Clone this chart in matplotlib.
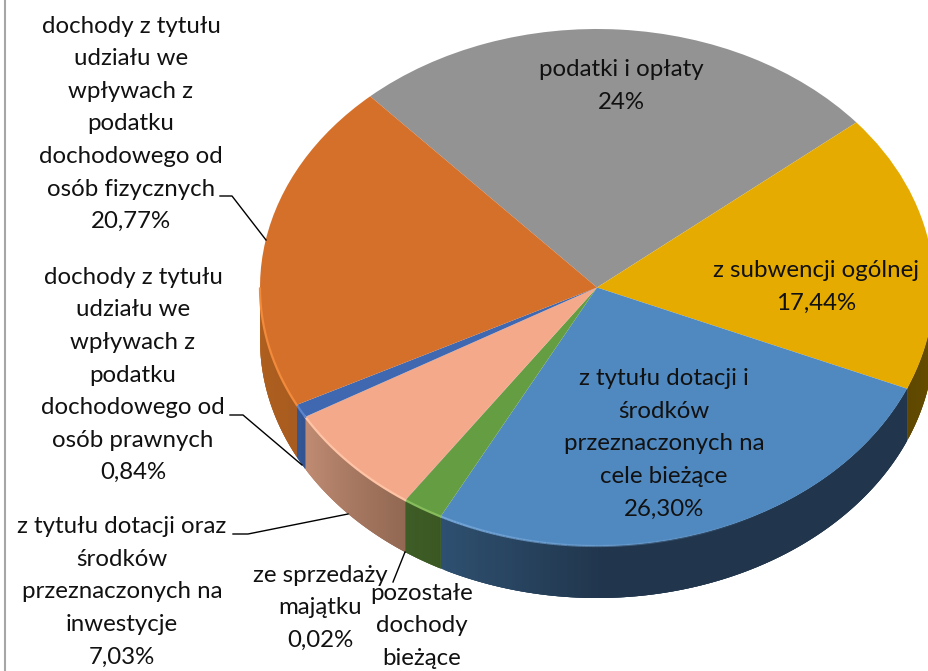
import numpy as np
import matplotlib
matplotlib.use("Agg")
import matplotlib.pyplot as plt
from matplotlib.colors import to_rgb

plt.rcParams['font.family'] = ['Lato', 'DejaVu Sans']

slice_names = ["podatki", "subwencja", "dotacje biezace", "pozostale", "sprzedaz",
               "dotacje inwestycje", "udzial CIT", "udzial PIT"]
slice_shares = [25.75, 17.44, 26.30, 1.94, 0.02, 7.03, 0.84, 20.77]

top_colors = ["#939393", "#E5AB00", "#5089C0", "#659E42", "#7A5C3A", "#F4A98A", "#4068B0", "#D5702B"]
wall_left = ["#6B6B6B", "#5E4700", "#2E5070", "#3D5C24", "#5C4530", "#C08B73", "#2F5597", "#B0601F"]
wall_right = ["#6B6B6B", "#6B5000", "#21364D", "#3A5722", "#5C4530", "#926852", "#2F5090", "#A85C1F"]
wall_span = [1, 1, 0.3, 1, 1, 1, 1, 1]
rim_colors = [None, None, "#74A6D8", "#86BC5C", None, "#FFC4A6", "#5A84CC", "#F28A3C"]

labels = [
    ("dochody z tytułu\nudziału we\nwpływach z\npodatku\ndochodowego od\nosób fizycznych\n20,77%", 131, 124),
    ("dochody z tytułu\nudziału we\nwpływach z\npodatku\ndochodowego od\nosób prawnych\n0,84%", 133, 375),
    ("z tytułu dotacji oraz\nśrodków\nprzeznaczonych na\ninwestycje\n7,03%", 122, 592),
    ("ze sprzedaży\nmajątku\n0,02%", 320, 608),
    ("pozostałe\ndochody\nbieżące", 422, 626),
    ("podatki i opłaty\n24%", 621, 86),
    ("z subwencji ogólnej\n17,44%", 816, 287),
    ("z tytułu dotacji i\nśrodków\nprzeznaczonych na\ncele bieżące\n26,30%", 664, 444),
]

leaders = [
    ([220, 232, 266], [196, 196, 240]),
    ([230, 243, 302], [415, 415, 465]),
    ([233, 248, 348], [534, 534, 514]),
    ([405, 393], [552, 582]),
]

W, H = 929, 671
fig = plt.figure(figsize=(W / 100, H / 100), dpi=100, facecolor="white")

# Pie axes: unit circle is stretched into the ellipse of the top surface
ax = fig.add_axes([260 / W, 125 / H, 674 / W, 517 / H])
wedges, _ = ax.pie(slice_shares, colors=top_colors, startangle=132.3, counterclock=False,
                   radius=1, wedgeprops={"linewidth": 0}, normalize=True)
ax.set_aspect("auto")
ax.set_xlim(-1, 1)
ax.set_ylim(-1, 1)
ax.axis("off")
for w in wedges:
    w.set_zorder(3)
    w.set_clip_on(False)

depth = 52 / 258.5

# Side wall and light rim for the part of each slice facing the viewer
for i, w in enumerate(wedges):
    t = np.radians(np.linspace(w.theta1, w.theta2, 160))
    t = t[np.sin(t) <= 0]
    if len(t) < 2:
        continue
    c0 = np.array(to_rgb(wall_left[i]))
    c1 = np.array(to_rgb(wall_right[i]))
    for k in range(len(t) - 1):
        frac = min(1, k / (len(t) - 1) / wall_span[i])
        # each strip runs over the next one so no seams show
        end = min(k + 3, len(t) - 1)
        arc = t[k:end + 1]
        xs = np.concatenate([np.cos(arc), np.cos(arc[::-1])])
        ys = np.concatenate([np.sin(arc), np.sin(arc[::-1]) - depth])
        ax.fill(xs, ys, color=c0 + (c1 - c0) * frac, lw=0, zorder=2 + k * 1e-4, clip_on=False)
    if rim_colors[i]:
        if i == 2:
            # highlight on the big blue slice fades out towards the right
            n = int(len(t) * 0.6)
            for k in range(n):
                ax.plot(np.cos(t[k:k + 2]), np.sin(t[k:k + 2]), color=rim_colors[i], lw=1.6,
                        alpha=1 - k / n, zorder=4, clip_on=False, solid_capstyle="butt")
        else:
            ax.plot(np.cos(t), np.sin(t), color=rim_colors[i], lw=1.6, zorder=4, clip_on=False)

# Overlay in image coordinates for texts and leader lines
over = fig.add_axes([0, 0, 1, 1], facecolor="none")
over.set_xlim(0, W)
over.set_ylim(H, 0)
over.axis("off")

for xs, ys in leaders:
    over.plot(xs, ys, color="black", lw=1.0)

for text, x, y in labels:
    over.text(x, y, text, ha="center", va="center", fontsize=17.3, color="#111111",
              linespacing=1.68, multialignment="center")

over.plot([5.5, 5.5], [0, H], color="#A6A6A6", lw=1.5)

fig.savefig("out.png", dpi=100)
